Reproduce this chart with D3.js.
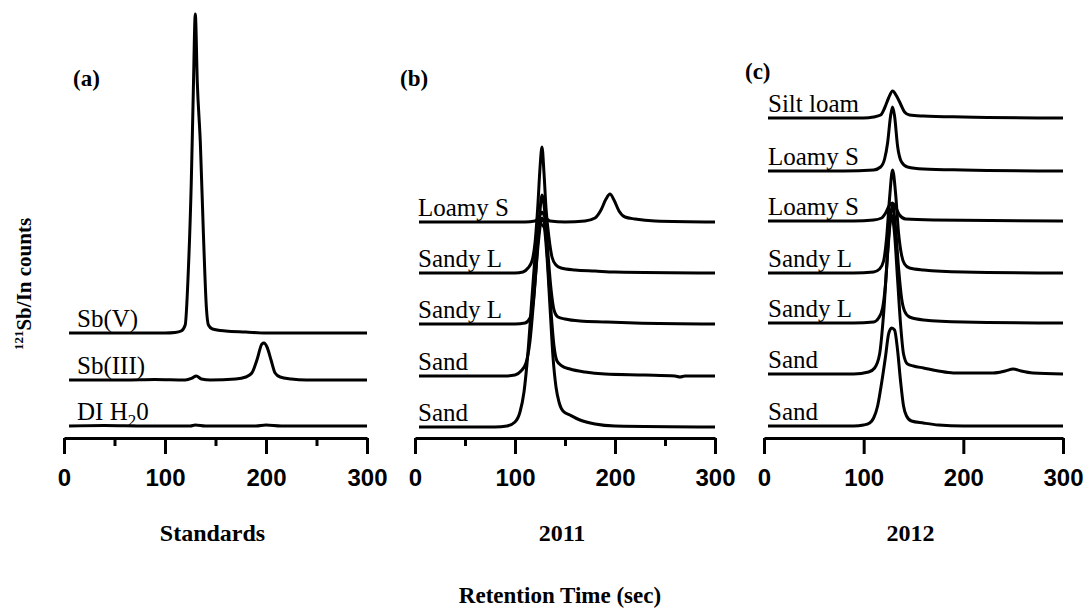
<!DOCTYPE html>
<html>
<head>
<meta charset="utf-8">
<script src="https://cdn.jsdelivr.net/npm/d3@7"></script>
<style>
  body { margin: 0; background: #fff; }
</style>
</head>
<body>
<div id="chart"></div>
<script>
// Values: [retention time (s), counts above the trace's own baseline]
// Offsets are where each stacked trace sits on the shared counts scale.

// (a) Standards
const standardsNames = ["Sb(V)", "Sb(III)", "DI H20"];
const standardsOffsets = [105, 58, 12];
const sbV = [[5,0],[100,0],[110,0.5],[116,2],[120,8],[123,60],[126,150],[128,240],[130,319],[132,250],[135,190],[138,100],[141,25],[143,8],[147,4],[160,2],[180,1],[200,0],[300,0]];
const sbIII = [[5,0],[60,0],[90,0.5],[120,0],[127,2],[131,4],[136,1],[145,0],[170,1],[180,3],[186,7],[191,20],[196,36],[198,37],[201,33],[205,20],[209,7],[214,3],[225,1],[240,0],[300,0]];
const diWater = [[5,0],[40,0.5],[80,0],[125,0],[130,1],[140,0],[190,0],[200,1],[215,0],[300,0]];

// (b) 2011
const soils2011 = ["Loamy S", "Sandy L", "Sandy L", "Sand", "Sand"];
const offsets2011 = [216, 165, 114, 62, 11];
const loamyS2011 = [[4,0],[110,0],[120,1],[124,5],[127,10],[130,5],[135,1],[150,0],[170,1],[180,4],[186,12],[191,23],[195,28],[199,22],[204,11],[210,5],[220,3],[240,1],[300,0]];
const sandyL2011a = [[4,0],[100,0],[108,1],[113,5],[117,12],[120,30],[123,70],[125,105],[127,126],[129,100],[131,65],[134,35],[137,16],[141,8],[146,5],[160,3],[180,2],[200,1],[300,0]];
const sandyL2011b = [[4,0],[100,0],[110,1],[115,6],[118,20],[121,55],[124,100],[127,129],[130,110],[133,70],[136,35],[139,14],[143,7],[150,5],[165,3],[190,2],[220,1],[300,0]];
const sand2011a = [[4,0],[90,0],[100,1],[106,5],[111,13],[115,35],[119,80],[123,130],[127,158],[130,150],[133,110],[136,65],[139,30],[142,15],[147,10],[155,7],[170,4],[190,2],[230,1],[260,0],[265,-1],[270,0],[300,0]];
const sand2011b = [[4,0],[80,0],[92,1],[100,5],[105,15],[109,35],[113,75],[117,130],[121,180],[125,203],[129,200],[132,170],[135,120],[138,70],[141,40],[144,25],[148,16],[155,12],[165,7],[180,3],[200,1],[300,0]];

// (c) 2012
const soils2012 = ["Silt loam", "Loamy S", "Loamy S", "Sandy L", "Sandy L", "Sand", "Sand"];
const offsets2012 = [320, 267, 217, 165, 115, 64, 12];
const siltLoam2012 = [[4,0],[60,0],[100,0],[110,1],[117,3],[121,10],[125,20],[129,27],[133,22],[137,14],[141,6],[146,3],[160,2],[200,1],[300,0]];
const loamyS2012a = [[4,0],[80,0],[110,1],[117,4],[121,12],[124,28],[127,55],[129,64],[131,55],[134,25],[138,9],[144,4],[160,2],[200,1],[300,0]];
const loamyS2012b = [[4,0],[90,0],[110,1],[118,3],[122,8],[126,16],[129,18],[132,14],[136,6],[142,2],[170,1],[300,0]];
const sandyL2012a = [[4,0],[90,0],[110,1],[116,4],[120,12],[123,35],[126,75],[129,103],[132,80],[135,40],[138,18],[141,9],[146,5],[160,3],[200,1],[300,0]];
const sandyL2012b = [[4,0],[90,0],[110,1],[115,5],[119,15],[122,40],[125,85],[129,118],[132,95],[135,55],[138,25],[141,12],[146,6],[160,3],[200,1],[300,0]];
const sand2012a = [[4,0],[90,0],[105,2],[111,6],[116,20],[120,60],[124,120],[128,159],[131,140],[134,95],[137,50],[140,20],[144,10],[150,8],[160,6],[175,3],[190,1],[230,1],[242,3],[250,5],[258,3],[270,1],[300,0]];
const sand2012b = [[4,0],[90,0],[100,1],[106,3],[110,8],[114,20],[118,43],[122,70],[125,92],[128,98],[131,96],[134,76],[137,45],[140,20],[143,10],[148,5],[160,3],[175,1],[200,0],[300,0]];

const majorTicks = [0, 100, 200, 300];
const minorTicks = [50, 150, 250];

const width = 1092, height = 612;
const serif = "'Liberation Serif', 'Times New Roman', serif";
const sans = "'Liberation Sans', Arial, sans-serif";

const svg = d3.select("#chart").append("svg")
    .attr("width", width)
    .attr("height", height);

// one counts scale shared by all three panels (no y axis drawn)
const y = d3.scaleLinear().domain([0, 428]).range([438, 10]);

const panels = [
  { tag: "(a)", tagX: 73, tagY: 86, x0: 64, x1: 367, labelDx: 13, title: "Standards",
    names: standardsNames, offsets: standardsOffsets, traces: [sbV, sbIII, diWater], minor: true },
  { tag: "(b)", tagX: 400, tagY: 86, x0: 415, x1: 715, labelDx: 3, title: "2011",
    names: soils2011, offsets: offsets2011,
    traces: [loamyS2011, sandyL2011a, sandyL2011b, sand2011a, sand2011b], minor: true },
  { tag: "(c)", tagX: 745, tagY: 79, x0: 764, x1: 1063, labelDx: 4, title: "2012",
    names: soils2012, offsets: offsets2012,
    traces: [siltLoam2012, loamyS2012a, loamyS2012b, sandyL2012a, sandyL2012b, sand2012a, sand2012b], minor: false }
];

panels.forEach(p => {
  const x = d3.scaleLinear().domain([0, 300]).range([p.x0, p.x1]);
  const g = svg.append("g");

  // traces
  p.traces.forEach((tr, i) => {
    const off = p.offsets[i];
    const line = d3.line()
        .x(d => x(d[0]))
        .y(d => y(d[1] + off))
        .curve(d3.curveMonotoneX);
    g.append("path")
        .datum(tr)
        .attr("d", line)
        .attr("fill", "none")
        .attr("stroke", "#000")
        .attr("stroke-width", 3)
        .attr("stroke-linejoin", "round");
  });

  // trace labels
  p.names.forEach((name, i) => {
    const t = g.append("text")
        .attr("x", p.x0 + p.labelDx)
        .attr("y", y(p.offsets[i]) - 6)
        .style("font-family", serif)
        .style("font-size", "25px")
        .attr("fill", "#000");
    if (name === "DI H20") {
      t.append("tspan").text("DI H");
      t.append("tspan").attr("dy", 6).style("font-size", "17px").text("2");
      t.append("tspan").attr("dy", -6).text("0");
    } else {
      t.text(name);
    }
  });

  // x axis
  const axis = g.append("g")
      .attr("transform", `translate(0,${y(0)})`)
      .call(d3.axisBottom(x).tickValues(majorTicks).tickSize(16).tickSizeOuter(0).tickPadding(15));
  axis.select(".domain").attr("stroke-width", 3);
  axis.selectAll(".tick line").attr("stroke-width", 3);
  axis.selectAll(".tick text")
      .style("font-family", sans)
      .style("font-size", "24px")
      .style("font-weight", "bold")
      .attr("fill", "#000");

  if (p.minor) {
    const minor = g.append("g")
        .attr("transform", `translate(0,${y(0)})`)
        .call(d3.axisBottom(x).tickValues(minorTicks).tickSize(8).tickFormat(""));
    minor.select(".domain").remove();
    minor.selectAll(".tick line").attr("stroke-width", 3);
  }

  // panel tag and subtitle
  g.append("text")
      .attr("x", p.tagX)
      .attr("y", p.tagY)
      .style("font-family", serif)
      .style("font-size", "23px")
      .style("font-weight", "bold")
      .text(p.tag);

  g.append("text")
      .attr("x", (p.x0 + p.x1) / 2 - 3)
      .attr("y", 541)
      .attr("text-anchor", "middle")
      .style("font-family", serif)
      .style("font-size", "24px")
      .style("font-weight", "bold")
      .text(p.title);
});

// y label
const yl = svg.append("text")
    .attr("transform", "translate(31,284) rotate(-90)")
    .attr("text-anchor", "middle")
    .style("font-family", serif)
    .style("font-size", "21px")
    .style("font-weight", "bold");
yl.append("tspan").attr("dy", -8).style("font-size", "13px").text("121");
yl.append("tspan").attr("dy", 8).text("Sb/In counts");

// shared x title
svg.append("text")
    .attr("x", 560)
    .attr("y", 603)
    .attr("text-anchor", "middle")
    .style("font-family", serif)
    .style("font-size", "23px")
    .style("font-weight", "bold")
    .text("Retention Time (sec)");
</script>
</body>
</html>
